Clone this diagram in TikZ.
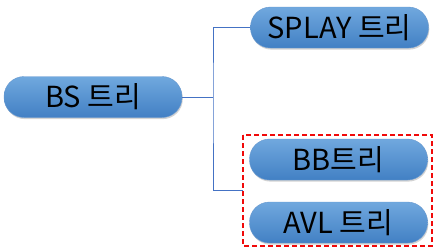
\documentclass[tikz,border=0pt]{standalone}
\usepackage{fontspec}
\usepackage{xcolor}
\usepackage{tikz}
\usetikzlibrary{positioning,shadows,calc}
\newfontfamily\kofont{Noto Sans CJK KR}
\definecolor{bstop}{RGB}{112,168,222}
\definecolor{bsbot}{RGB}{66,128,196}
\definecolor{bsline}{RGB}{68,114,196}
\definecolor{bsred}{RGB}{240,10,10}

\begin{document}
\begin{tikzpicture}[
  x=1pt, y=-1pt,
  font=\kofont\fontsize{29}{32}\selectfont,
  every node/.style={align=center},
  treebox/.style={rounded corners=20pt, minimum width=178pt, minimum height=41pt,
    inner sep=0pt, top color=bstop, bottom color=bsbot, draw=bsbot!80!white, line width=0.4pt,
    drop shadow={shadow xshift=0.8pt, shadow yshift=-1.6pt, opacity=0.35}}
]
\useasboundingbox (0,0) rectangle (437,250);
\node[treebox] (bs) at (93,97) {BS 트리};
\node[treebox] (splay) at (339.5,27.5) {SPLAY 트리};
\node[treebox] (bb) at (338.5,159.5) {BB트리};
\node[treebox] (avl) at (338.5,222.5) {AVL 트리};
\draw[bsred, line width=1.8pt, dash pattern=on 5pt off 3pt] (243,135) rectangle (432,246);
\coordinate (grp) at (243,190);
\draw[bsline, line width=0.8pt] (bs.east) -- (213,97);
\draw[bsline, line width=0.8pt] (splay.west) -| (213,97) |- (grp);
\end{tikzpicture}
\end{document}
